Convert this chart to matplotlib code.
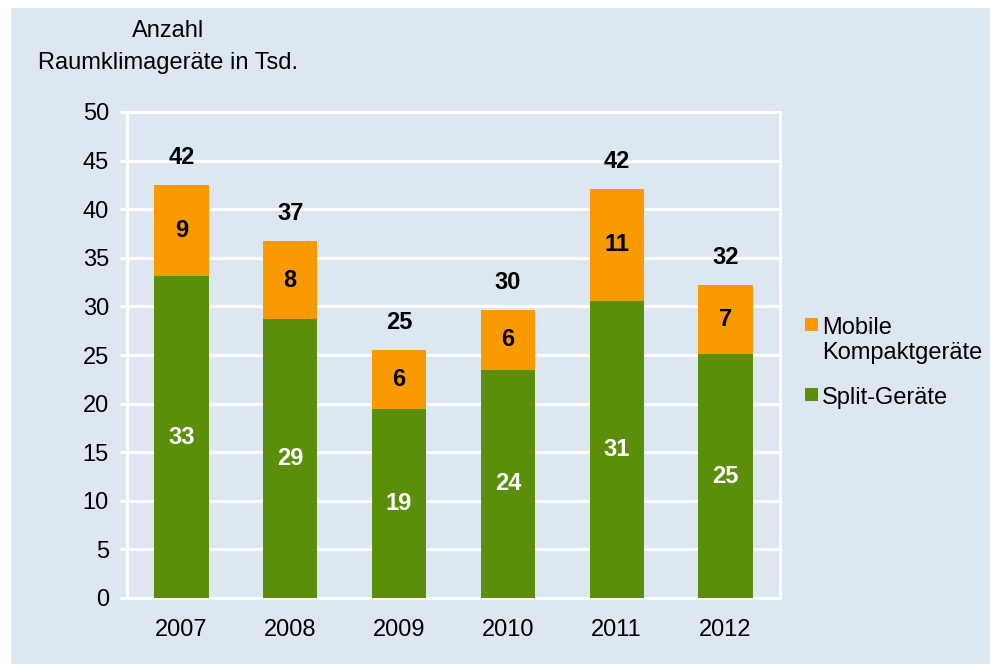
import numpy as np
import matplotlib
matplotlib.use("Agg")
import matplotlib.pyplot as plt
from matplotlib.patches import Rectangle

plt.rcParams['font.family'] = ['Liberation Sans', 'DejaVu Sans']

# Daten (Tsd. Geräte)
jahre = ['2007', '2008', '2009', '2010', '2011', '2012']
split = [33.1, 28.7, 19.4, 23.5, 30.6, 25.1]
mobil = [9.4, 8.0, 6.1, 6.1, 11.5, 7.1]
split_lbl = [33, 29, 19, 24, 31, 25]
mobil_lbl = [9, 8, 6, 6, 11, 7]
summe_lbl = [42, 37, 25, 30, 42, 32]

gruen = '#5b8f0a'
orange = '#f99a00'
hg = '#dde7f1'
fs = 17

fig = plt.figure(figsize=(9.9, 6.64), dpi=100)
fig.patch.set_facecolor('white')
W, H = 990, 664
fig.patches.append(Rectangle((11 / W, 0), 1 - 11 / W, (H - 8) / H,
                             transform=fig.transFigure, facecolor=hg,
                             edgecolor='none', zorder=-5))

ax = fig.add_axes([127 / W, (H - 598) / H, (780 - 127) / W, (598 - 112) / H])
ax.set_facecolor('none')

x = np.arange(len(jahre))
ax.bar(x, split, width=0.5, color=gruen, zorder=3)
ax.bar(x, mobil, width=0.5, bottom=split, color=orange, zorder=3)

for i in range(len(jahre)):
    ax.text(x[i], split[i] / 2, str(split_lbl[i]), ha='center', va='center',
            color='white', fontsize=fs, fontweight='bold', zorder=4)
    ax.text(x[i], split[i] + mobil[i] / 2, str(mobil_lbl[i]), ha='center',
            va='center', color='black', fontsize=fs, fontweight='bold', zorder=4)
    ax.annotate(str(summe_lbl[i]), (x[i], split[i] + mobil[i]),
                xytext=(0, 20), textcoords='offset points', ha='center',
                va='center', fontsize=fs, fontweight='bold')

ax.set_xlim(-0.5, len(jahre) - 0.5)
ax.set_ylim(0, 50)
ax.set_yticks(np.arange(0, 51, 5))
ax.set_xticks(x)
ax.set_xticklabels(jahre)
ax.grid(axis='y', color='white', linewidth=2.2)
ax.set_axisbelow(True)
for s in ax.spines.values():
    s.set_color('white')
    s.set_linewidth(2.2)
ax.tick_params(axis='y', colors='white', length=5, width=2.2, pad=8,
               labelsize=fs, labelcolor='black')
ax.tick_params(axis='x', length=0, pad=15, labelsize=fs, labelcolor='black')

fig.text(168 / W, 1 - 47 / H, 'Anzahl\nRaumklimageräte in Tsd.', ha='center',
         va='center', fontsize=fs, multialignment='center', linespacing=1.55)

# Legende
fig.patches.append(Rectangle((805 / W, 1 - 331 / H), 13 / W, 13 / H,
                             transform=fig.transFigure, facecolor=orange,
                             edgecolor='none'))
fig.text(822 / W, 1 - 317 / H, 'Mobile\nKompaktgeräte', ha='left', va='top',
         fontsize=fs, linespacing=1.15)
fig.patches.append(Rectangle((805 / W, 1 - 401 / H), 13 / W, 13 / H,
                             transform=fig.transFigure, facecolor=gruen,
                             edgecolor='none'))
fig.text(822 / W, 1 - 398 / H, 'Split-Geräte', ha='left', va='center',
         fontsize=fs)

fig.savefig('out.png', dpi=100, facecolor=fig.get_facecolor())
